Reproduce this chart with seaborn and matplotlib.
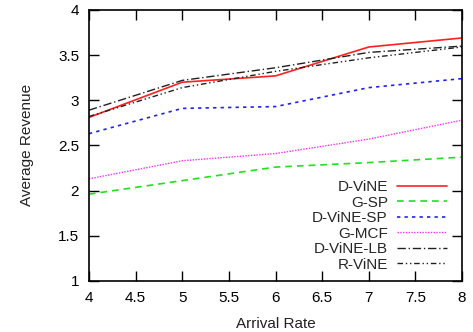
import matplotlib
matplotlib.use("Agg")
import matplotlib.pyplot as plt
import pandas as pd
import numpy as np
import seaborn as sns

# data
arrival_rate = [4, 5, 6, 7, 8]
d_vine = [2.81, 3.20, 3.27, 3.59, 3.69]
g_sp = [1.96, 2.11, 2.26, 2.31, 2.37]
d_vine_sp = [2.63, 2.91, 2.93, 3.14, 3.24]
g_mcf = [2.13, 2.33, 2.41, 2.57, 2.78]
d_vine_lb = [2.89, 3.22, 3.36, 3.53, 3.60]
r_vine = [2.82, 3.14, 3.32, 3.47, 3.59]

series = {
    'D-ViNE': d_vine,
    'G-SP': g_sp,
    'D-ViNE-SP': d_vine_sp,
    'G-MCF': g_mcf,
    'D-ViNE-LB': d_vine_lb,
    'R-ViNE': r_vine,
}

# styles for each line
styles = {
    'D-ViNE': dict(color='#ff2020', linestyle='-', linewidth=1.2),
    'G-SP': dict(color='#20e020', linestyle=(0, (4, 3)), linewidth=1.2),
    'D-ViNE-SP': dict(color='#2020ff', linestyle=(0, (2, 2.5)), linewidth=1.2),
    'G-MCF': dict(color='#ff30ff', linestyle=(0, (1, 1)), linewidth=1.0),
    'D-ViNE-LB': dict(color='#202020', linestyle=(0, (6, 2, 1, 2)), linewidth=1.0),
    'R-ViNE': dict(color='#202020', linestyle=(0, (4, 2, 1, 2, 1, 2)), linewidth=1.0),
}

df = pd.DataFrame(series)
df['Arrival Rate'] = arrival_rate

sns.set_style('ticks')
plt.rcParams['font.family'] = ['Liberation Sans', 'DejaVu Sans']

fig = plt.figure(figsize=(4.73, 3.32), dpi=100)
ax = fig.add_axes([0.188, 0.154, 0.789, 0.816])

for name in series:
    sns.lineplot(data=df, x='Arrival Rate', y=name, ax=ax, label=name, **styles[name])

ax.set_xlim(4, 8)
ax.set_ylim(1, 4)
ax.set_xticks(np.arange(4, 8.01, 0.5))
ax.set_yticks(np.arange(1, 4.01, 0.5))
ax.set_xticklabels(['4', '4.5', '5', '5.5', '6', '6.5', '7', '7.5', '8'])
ax.set_yticklabels(['1', '1.5', '2', '2.5', '3', '3.5', '4'])
ax.tick_params(direction='in', top=True, right=True, length=7, width=1,
               labelsize=11, colors='black', pad=7)
for s in ax.spines.values():
    s.set_linewidth(1.2)
    s.set_color('black')
ax.set_xlabel('Arrival Rate', fontsize=11, color='#222222', labelpad=9)
ax.set_ylabel('Average Revenue', fontsize=11, color='#222222', labelpad=17)

ax.legend(loc='lower right', frameon=False, markerfirst=False, fontsize=11,
          handlelength=3.3, handletextpad=0.6, labelspacing=0.1, borderaxespad=0.2,
          bbox_to_anchor=(0.985, 0.0))

plt.savefig('out.png', dpi=100)
